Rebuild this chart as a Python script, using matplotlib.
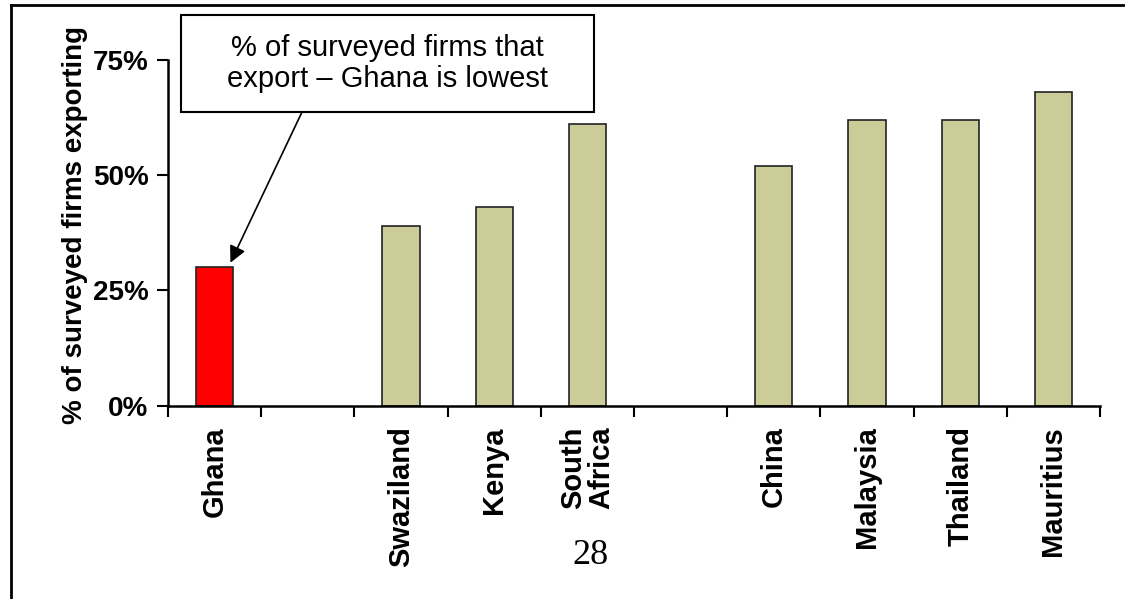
import numpy as np
import matplotlib
matplotlib.use("Agg")
import matplotlib.pyplot as plt
from matplotlib.lines import Line2D
from matplotlib.patches import Rectangle
from matplotlib.ticker import FuncFormatter

plt.rcParams['font.family'] = ['Liberation Sans', 'DejaVu Sans']

# data (empty strings are the gaps between country groups)
countries = ["Ghana", "", "Swaziland", "Kenya", "South\nAfrica", "",
             "China", "Malaysia", "Thailand", "Mauritius"]
share_exporting = [0.30, None, 0.39, 0.43, 0.61, None, 0.52, 0.62, 0.62, 0.68]
bar_colors = ["#FF0000", None, "#CCCC99", "#CCCC99", "#CCCC99", None,
              "#CCCC99", "#CCCC99", "#CCCC99", "#CCCC99"]
y_ticks = [0, 0.25, 0.50, 0.75]

W, H = 1125, 599
fig = plt.figure(figsize=(W/100, H/100), dpi=100)
ax = fig.add_axes([168/W, 1 - 405.5/H, (1100 - 168)/W, (405.5 - 60)/H])

pos = np.arange(len(countries))
for i, (v, c) in enumerate(zip(share_exporting, bar_colors)):
    if v is None:
        continue
    ax.bar(pos[i], v, width=0.4, color=c, edgecolor="#222222", linewidth=1.2)

ax.set_xlim(-0.5, len(countries) - 0.5)
ax.set_ylim(0, 0.75)
ax.set_yticks(y_ticks)
ax.yaxis.set_major_formatter(FuncFormatter(lambda v, _: f"{v:.0%}"))
ax.tick_params(axis='y', direction='out', length=8, width=1.5, labelsize=20, pad=6)
for lab in ax.get_yticklabels():
    lab.set_fontweight('bold')

# category boundaries get the tick marks, labels sit at bar centres
ax.set_xticks(np.arange(-0.5, len(countries)), minor=True)
ax.set_xticks(pos)
ax.set_xticklabels(countries, rotation=90, fontsize=21, fontweight='bold',
                   linespacing=1.0)
ax.tick_params(axis='x', which='major', length=0, pad=15)
ax.tick_params(axis='x', which='minor', direction='out', length=8, width=1.5)

for s in ['top', 'right']:
    ax.spines[s].set_visible(False)
for s in ['left', 'bottom']:
    ax.spines[s].set_linewidth(1.8)

ax.set_ylabel("% of surveyed firms exporting", fontsize=20, fontweight='bold')
ax.yaxis.set_label_coords(-(168 - 88)/932, (405.5 - 225)/345.5)

# callout box with arrow pointing at Ghana
box_l, box_r, box_t, box_b = 181, 594, 15, 112
fig.add_artist(Rectangle((box_l/W, 1 - box_b/H), (box_r - box_l)/W, (box_b - box_t)/H,
                         transform=fig.transFigure, fc='white', ec='black', lw=1.5))
fig.text((box_l + box_r)/2/W, 1 - (box_t + box_b)/2/H,
         "% of surveyed firms that\nexport – Ghana is lowest",
         ha='center', va='center', fontsize=21, linespacing=1.1)
ax.annotate("", xy=(pos[0] + 0.17, share_exporting[0] + 0.01),
            xytext=(302/W, 1 - box_b/H), textcoords='figure fraction',
            arrowprops=dict(arrowstyle='-|>', color='black', lw=1.2,
                            mutation_scale=25, shrinkA=0, shrinkB=0))

# page frame and page number
fig.add_artist(Line2D([11/W, 11/W], [0, 1 - 5/H], color='black', lw=2,
                      transform=fig.transFigure))
fig.add_artist(Line2D([11/W, 1], [1 - 5/H, 1 - 5/H], color='black', lw=2,
                      transform=fig.transFigure))
fig.text(590/W, 1 - 555/H, "28", family='Liberation Serif', fontsize=26,
         ha='center', va='center')

fig.savefig("out.png", dpi=100)
